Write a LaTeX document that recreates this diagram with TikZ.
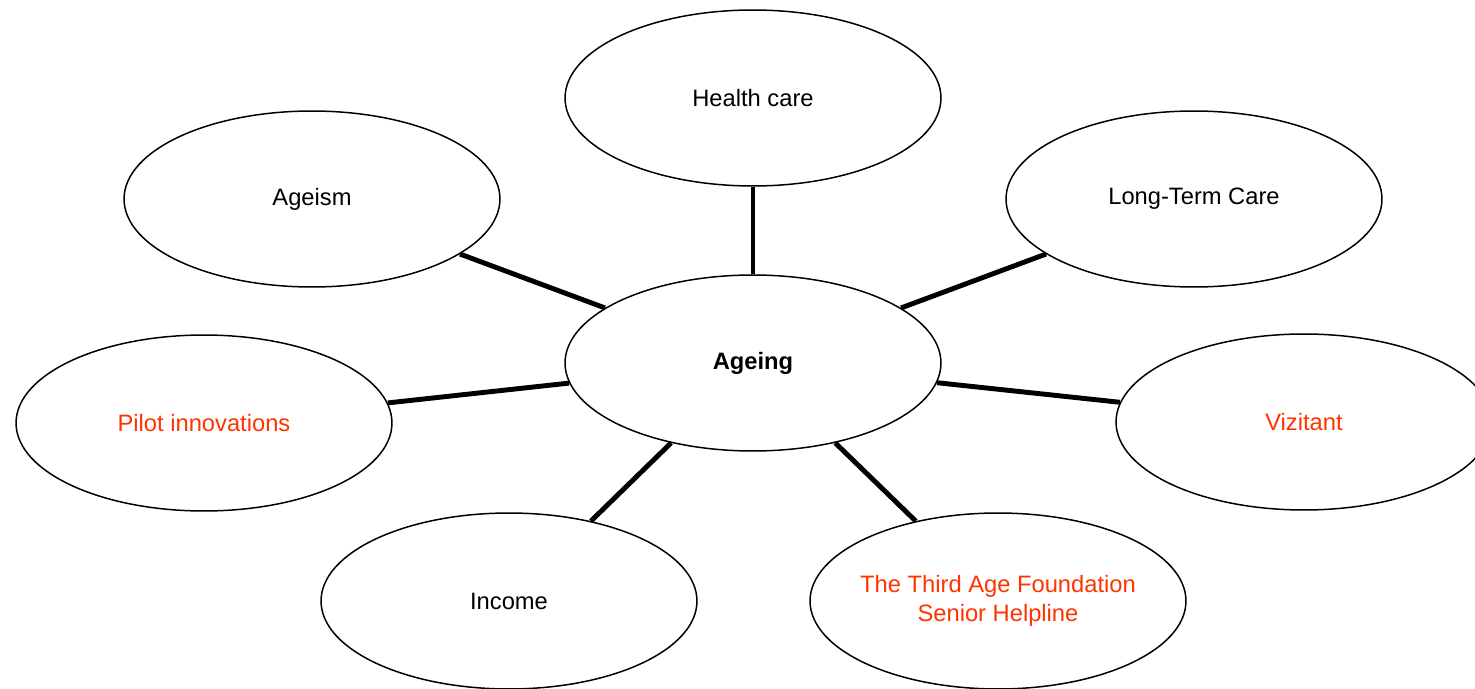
\documentclass[tikz,border=0pt]{standalone}
\usepackage{fontspec}
\setmainfont{Liberation Sans}
\usetikzlibrary{shapes.geometric}
\definecolor{hilite}{RGB}{255,51,0}

\begin{document}
\begin{tikzpicture}[x=0.02cm,y=-0.02cm,
        bubble/.style={draw,ellipse,line width=0.85pt,inner sep=0pt,
            minimum width=7.52cm,minimum height=3.52cm,align=center,
            font=\fontsize{13.5}{16.4}\selectfont},
        spoke/.style={line width=2.8pt}]
                    \useasboundingbox (0,0) rectangle (1475,689);

                    \node[bubble,font=\fontsize{13.5}{16.4}\selectfont\bfseries] (ageing) at (753,363) {Ageing};
                    \node[bubble] (health) at (753,98) {Health care};
                    \node[bubble] (ageism) at (312,199) {Ageism};
                    \node[bubble] (ltc) at (1194,199) {Long-Term Care};
                    \node[bubble,text=hilite] (pilot) at (204,423) {Pilot innovations};
                    \node[bubble,text=hilite] (vizitant) at (1304,422) {Vizitant};
                    \node[bubble] (income) at (509,601) {Income};
                    \node[bubble,text=hilite] (thirdage) at (998,601)
                        {\makebox[0pt]{The Third Age Foundation}\\\makebox[0pt]{Senior Helpline}};

                    \foreach \n in {health,ageism,ltc,pilot,vizitant,income,thirdage} {
                            \draw[spoke] (ageing) -- (\n);
                        }

                \end{tikzpicture}
\end{document}
